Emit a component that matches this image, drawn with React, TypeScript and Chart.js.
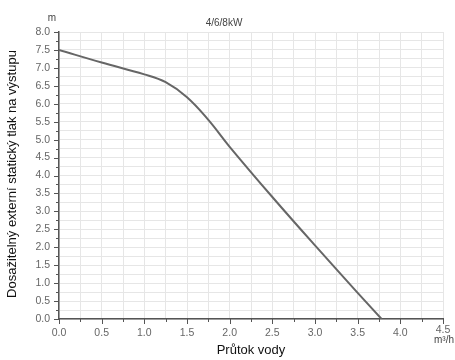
import React, { useEffect, useRef } from "react";
import { Chart, registerables } from "chart.js";

Chart.register(...registerables);

const flowValues = [0, 0.5, 1.0, 1.25, 1.5, 1.75, 2.0, 2.5, 3.0, 3.5, 3.78];
const pressureValues = [7.5, 7.15, 6.82, 6.6, 6.18, 5.55, 4.8, 3.4, 2.05, 0.73, 0];

const titleText = "4/6/8kW";
const yUnit = "m";
const xUnit = "m³/h";
const yTitle = "Dosažitelný externí statický tlak na výstupu";
const xTitle = "Průtok vody";

const FONT = "'Liberation Sans', Arial, sans-serif";

const overlayPlugin = {
  id: "overlay",
  afterDraw(chart: any) {
    const ctx = chart.ctx;
    const xs = chart.scales.x;
    const ys = chart.scales.y;
    const area = chart.chartArea;
    ctx.save();
    // tick marks
    ctx.strokeStyle = "#555";
    ctx.lineWidth = 1;
    for (let v = 0; v <= 4.5001; v += 0.25) {
      const px = Math.round(xs.getPixelForValue(v)) + 0.5;
      const major = Math.abs(v * 2 - Math.round(v * 2)) < 1e-6;
      ctx.beginPath();
      ctx.moveTo(px, area.bottom);
      ctx.lineTo(px, area.bottom + (major ? 5 : 3));
      ctx.stroke();
    }
    for (let v = 0; v <= 8.0001; v += 0.25) {
      const py = Math.round(ys.getPixelForValue(v)) + 0.5;
      const major = Math.abs(v * 2 - Math.round(v * 2)) < 1e-6;
      ctx.beginPath();
      ctx.moveTo(area.left, py);
      ctx.lineTo(area.left - (major ? 5 : 3), py);
      ctx.stroke();
    }
    // texts
    ctx.fillStyle = "#444";
    ctx.font = `10px ${FONT}`;
    ctx.textAlign = "center";
    ctx.textBaseline = "middle";
    ctx.fillText(titleText, 224, 23);
    ctx.fillText(yUnit, 52, 18);
    ctx.fillText(xUnit, 444, 340);
    ctx.fillStyle = "#111";
    ctx.font = `13px ${FONT}`;
    ctx.fillText(xTitle, 251, 350);
    ctx.translate(12, 174);
    ctx.rotate(-Math.PI / 2);
    ctx.fillText(yTitle, 0, 0);
    ctx.restore();
  },
};

export default function App() {
  const ref = useRef<HTMLCanvasElement | null>(null);
  useEffect(() => {
    document.body.style.margin = "0";
    const data = flowValues.map((x, i) => ({ x, y: pressureValues[i] }));
    const tickCb = (v: any) => {
      const n = Number(v);
      if (Math.abs(n - 4.5) < 1e-6) return "";
      return Math.abs(n * 2 - Math.round(n * 2)) < 1e-6 ? n.toFixed(1) : "";
    };
    const yTickCb = (v: any) => {
      const n = Number(v);
      return Math.abs(n * 2 - Math.round(n * 2)) < 1e-6 ? n.toFixed(1) : "";
    };
    const xLabelPlugin = {
      id: "xlast",
      afterDraw(chart: any) {
        const ctx = chart.ctx;
        const xs = chart.scales.x;
        ctx.save();
        ctx.fillStyle = "#666";
        ctx.font = `10.5px ${FONT}`;
        ctx.textAlign = "center";
        ctx.textBaseline = "middle";
        ctx.fillText("4.5", xs.getPixelForValue(4.5), 330);
        ctx.restore();
      },
    };
    const chart = new Chart(ref.current as HTMLCanvasElement, {
      type: "line",
      data: {
        datasets: [
          {
            data,
            borderColor: "#666",
            borderWidth: 2,
            pointRadius: 0,
            tension: 0.4,
            fill: false,
          },
        ],
      },
      options: {
        animation: false,
        responsive: false,
        maintainAspectRatio: false,
        layout: { padding: { left: 0, right: 12, top: 32, bottom: 0 } },
        plugins: { legend: { display: false }, tooltip: { enabled: false } },
        scales: {
          x: {
            type: "linear",
            min: 0,
            max: 4.5,
            afterFit: (s: any) => {
              s.height = 41;
            },
            ticks: {
              stepSize: 0.25,
              autoSkip: false,
              maxRotation: 0,
              callback: tickCb,
              color: "#666",
              font: { size: 10.5, family: FONT },
              padding: 8,
            },
            grid: { color: "#e6e6e6", drawTicks: false },
            border: { color: "#555", width: 1.5 },
          },
          y: {
            type: "linear",
            min: 0,
            max: 8,
            afterFit: (s: any) => {
              s.width = 59;
            },
            ticks: {
              stepSize: 0.25,
              autoSkip: false,
              callback: yTickCb,
              color: "#666",
              font: { size: 10.5, family: FONT },
              padding: 9,
            },
            grid: { color: "#e6e6e6", drawTicks: false },
            border: { color: "#555", width: 1.5 },
          },
        },
      },
      plugins: [overlayPlugin, xLabelPlugin],
    });
    return () => chart.destroy();
  }, []);
  return (
    <div style={{ width: 455, height: 360, background: "#fff" }}>
      <canvas ref={ref} width={455} height={360} style={{ display: "block" }} />
    </div>
  );
}
